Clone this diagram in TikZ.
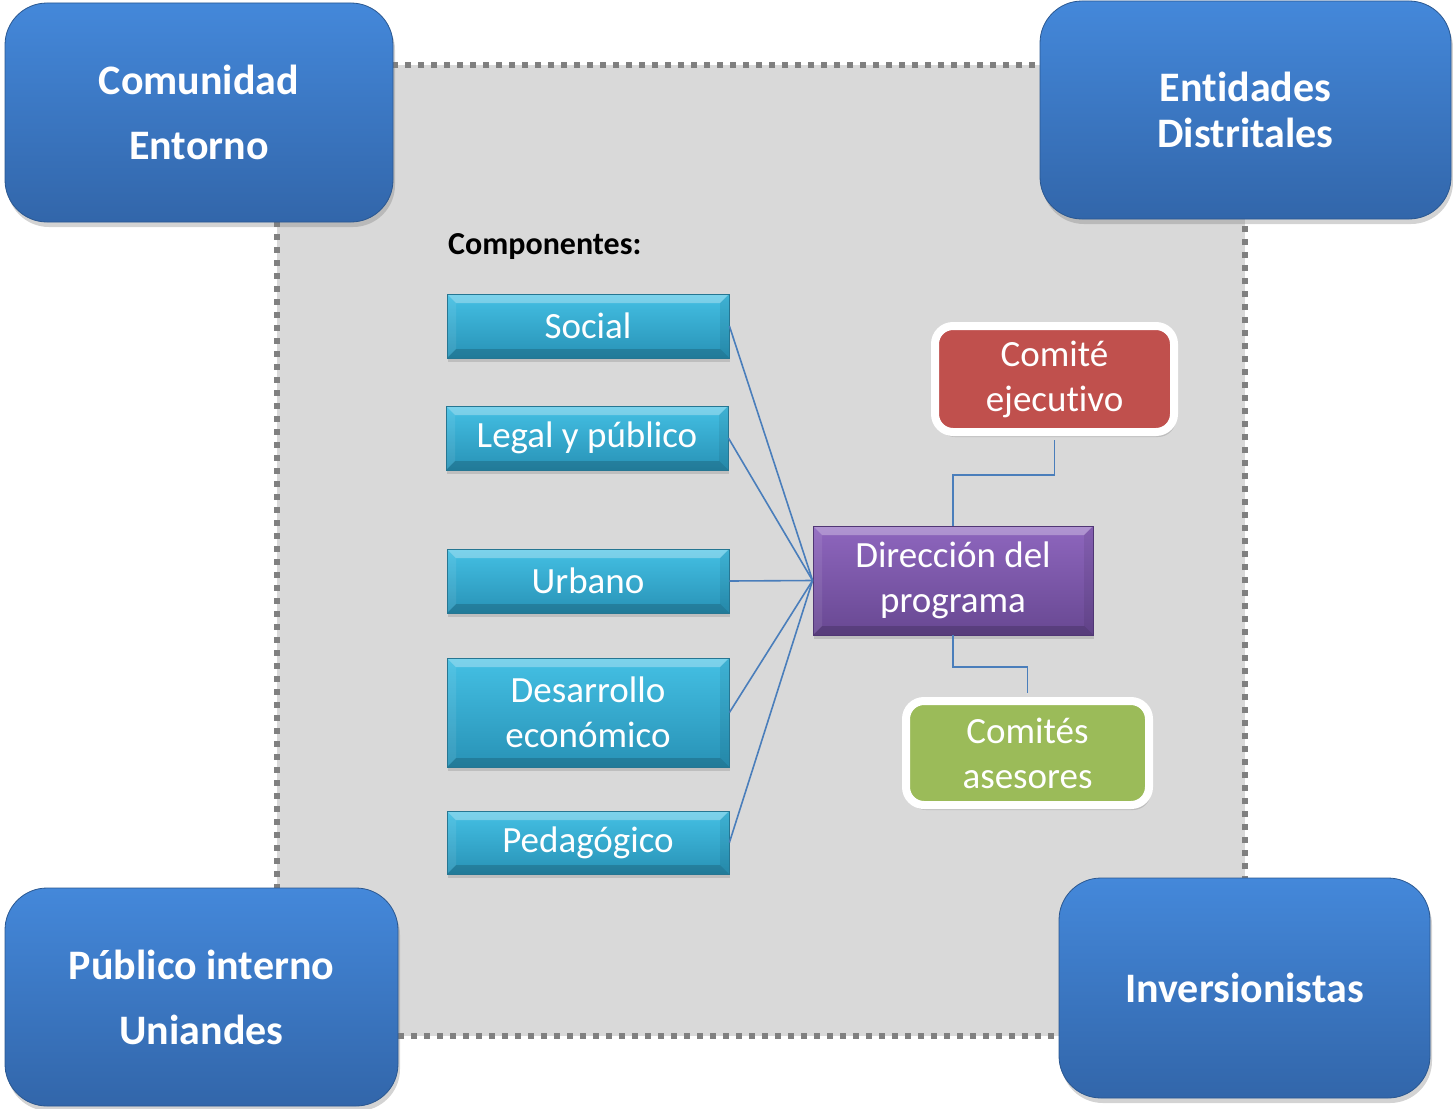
\documentclass[tikz,border=0pt]{standalone}
\usepackage{fontspec}
\setmainfont[Ligatures={NoCommon}]{Carlito}
\usetikzlibrary{shadows}
\definecolor{bgGray}{RGB}{217,217,217}
\definecolor{dotGray}{RGB}{128,128,128}
\definecolor{cornTop}{RGB}{68,136,218}
\definecolor{cornBot}{RGB}{50,102,170}
\definecolor{cyTop}{RGB}{68,192,228}
\definecolor{cyBot}{RGB}{40,146,182}
\definecolor{cyLine}{RGB}{38,118,146}
\definecolor{puTop}{RGB}{142,102,190}
\definecolor{puBot}{RGB}{104,72,146}
\definecolor{puLine}{RGB}{80,54,116}
\definecolor{redF}{RGB}{192,80,77}
\definecolor{greenF}{RGB}{155,187,89}
\definecolor{conn}{RGB}{74,126,187}
\tikzset{
  corner/.style={rounded corners=42pt, top color=cornTop, bottom color=cornBot,
    draw=cornBot!85!black, line width=0.8pt, text=white, align=center,
    font=\bfseries\fontsize{42}{46}\selectfont,
    drop shadow={shadow xshift=2pt, shadow yshift=-5pt, opacity=.35}},
  bevel/.style={path picture={
    \fill[white,opacity=.3] (path picture bounding box.north west) -- (path picture bounding box.north east)
      -- ([xshift=-9pt,yshift=-9pt]path picture bounding box.north east) -- ([xshift=9pt,yshift=-9pt]path picture bounding box.north west) -- cycle;
    \fill[black,opacity=.16] (path picture bounding box.south west) -- (path picture bounding box.south east)
      -- ([xshift=-9pt,yshift=9pt]path picture bounding box.south east) -- ([xshift=9pt,yshift=9pt]path picture bounding box.south west) -- cycle;
    \fill[white,opacity=.08] (path picture bounding box.north west) -- ([xshift=9pt,yshift=-9pt]path picture bounding box.north west)
      -- ([xshift=9pt,yshift=9pt]path picture bounding box.south west) -- (path picture bounding box.south west) -- cycle;
    \fill[black,opacity=.07] (path picture bounding box.north east) -- ([xshift=-9pt,yshift=-9pt]path picture bounding box.north east)
      -- ([xshift=-9pt,yshift=9pt]path picture bounding box.south east) -- (path picture bounding box.south east) -- cycle;
  }},
  comp/.style={bevel, top color=cyTop, bottom color=cyBot, draw=cyLine, line width=0.8pt,
    minimum width=282pt, minimum height=64pt, inner sep=0pt, text=white, align=center,
    font=\fontsize{37}{45}\selectfont,
    drop shadow={shadow xshift=1pt, shadow yshift=-4pt, opacity=.3}},
  dirbox/.style={bevel, top color=puTop, bottom color=puBot, draw=puLine, line width=0.8pt,
    minimum width=280pt, minimum height=109pt, inner sep=0pt, text=white, align=center,
    font=\fontsize{37}{45}\selectfont,
    drop shadow={shadow xshift=1pt, shadow yshift=-4pt, opacity=.3}},
  comite/.style={rounded corners=18pt, draw=white, line width=8pt, text=white, align=center,
    inner sep=0pt, font=\fontsize{37}{45}\selectfont,
    drop shadow={shadow xshift=2pt, shadow yshift=-5pt, opacity=.3}},
  link/.style={draw=conn, line width=1.6pt},
}
\begin{document}
\begin{tikzpicture}[x=1pt,y=-1pt]
\useasboundingbox (0,0) rectangle (1453,1108);
% central area
\fill[bgGray] (277,65) rectangle (1245,1036);
\draw[dotGray, line width=6pt, dash pattern=on 6pt off 7pt] (277,65) rectangle (1245,1036);

% corner boxes
\node[corner, minimum width=388pt, minimum height=219pt] (ce) at (199,112.5) {Comunidad\\[19pt]Entorno};
\node[corner, minimum width=411pt, minimum height=218pt] (ed) at (1245.5,110) {Entidades\\Distritales};
\node[corner, minimum width=393pt, minimum height=218pt] (pu) at (201.5,997) {Público interno\\[19pt]Uniandes};
\node[corner, minimum width=371pt, minimum height=220pt] (in) at (1244.5,988) {Inversionistas};

% label
\node[anchor=west, inner sep=0pt, font=\bfseries\fontsize{32}{36}\selectfont] (lbl) at (448,247) {Componentes:};

% components
\node[comp] (so) at (588,326) {Social};
\node[comp] (le) at (587,438) {Legal y público};
\node[comp] (ur) at (588,581) {Urbano};
\node[comp, minimum height=109pt] (de) at (588,712.5) {Desarrollo\\económico};
\node[comp, minimum height=63pt] (pe) at (588,842.5) {Pedagógico};

% direction
\node[dirbox] (dir) at (953,580.5) {Dirección del\\programa};

% committees
\node[comite, fill=redF, minimum width=239pt, minimum height=106pt] (ce2) at (1054.5,379) {Comité\\ejecutivo};
\node[comite, fill=greenF, minimum width=243pt, minimum height=104pt] (ca) at (1027.5,753) {Comités\\asesores};

% connectors
\coordinate (k1) at (0,475);
\coordinate (k2) at (0,667);
\draw[link] (so.east) -- (dir.west);
\draw[link] (le.east) -- (dir.west);
\draw[link] (ur.east) -- (dir.west);
\draw[link] (de.east) -- (dir.west);
\draw[link] (pe.east) -- (dir.west);
\draw[link] ([yshift=-4pt]ce2.south) -- (ce2.south |- k1) -| (dir.north);
\draw[link] (dir.south) -- (dir.south |- k2) -| ([yshift=4pt]ca.north);
\end{tikzpicture}
\end{document}
